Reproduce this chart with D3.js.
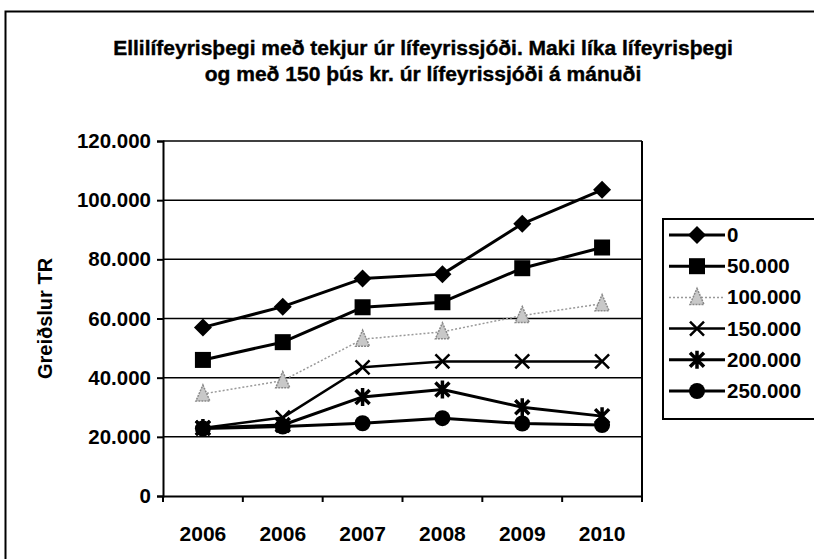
<!DOCTYPE html>
<html>
<head>
<meta charset="utf-8">
<script src="https://cdn.jsdelivr.net/npm/d3@7/dist/d3.min.js"></script>
<style>
  html, body { margin: 0; padding: 0; background: #fff; overflow: hidden; }
  svg { display: block; font-family: "Liberation Sans", Arial, sans-serif; font-weight: bold; }
</style>
</head>
<body>
<div id="chart"></div>
<script>
// gögn lesin af myndinni
const years = ['2006', '2006', '2007', '2008', '2009', '2010'];
const seriesNames = ['0', '50.000', '100.000', '150.000', '200.000', '250.000'];
const s0 = [57000, 64000, 73500, 75000, 92000, 103500];
const s50 = [46000, 52000, 63800, 65500, 77000, 84000];
const s100 = [34500, 39000, 53000, 55500, 61000, 65000];
const s150 = [23000, 26500, 43500, 45500, 45500, 45500];
const s200 = [23000, 24000, 33500, 36000, 30000, 27000];
const s250 = [22800, 23500, 24600, 26300, 24500, 24000];
const yTicks = [0, 20000, 40000, 60000, 80000, 100000, 120000];
const titleLines = ['Ellilífeyrisþegi með tekjur úr lífeyrissjóði. Maki líka lífeyrisþegi',
                    'og með 150 þús kr. úr lífeyrissjóði á mánuði'];
const yTitle = 'Greiðslur TR';

const W = 814, H = 559;
const plot = { left: 163, right: 642, top: 141, bottom: 496 };

const svg = d3.select('#chart').append('svg').attr('width', W).attr('height', H);

// ytri rammi
svg.append('rect').attr('x', 5.5).attr('y', 11.5).attr('width', 840).attr('height', 600)
  .attr('fill', 'none').attr('stroke', '#000').attr('stroke-width', 2);

// titill
svg.append('g').selectAll('text').data(titleLines).enter().append('text')
  .attr('x', 423).attr('y', (d, i) => 55 + i * 26)
  .attr('text-anchor', 'middle').attr('font-size', '21px').attr('fill', '#000')
  .attr('stroke', '#000').attr('stroke-width', 0.4)
  .text(d => d);

const x = d3.scaleBand().domain(d3.range(years.length)).range([plot.left, plot.right]);
const y = d3.scaleLinear().domain([0, 120000]).range([plot.bottom, plot.top]);
const fmt = v => d3.format(',')(v).replace(/,/g, '.');

// gridlínur
svg.append('g').selectAll('line').data(yTicks.filter(t => t > 0)).enter().append('line')
  .attr('x1', plot.left).attr('x2', plot.right)
  .attr('y1', d => y(d)).attr('y2', d => y(d))
  .attr('stroke', '#000').attr('stroke-width', 1.5);

// hægri rammi
svg.append('line').attr('x1', plot.right).attr('x2', plot.right)
  .attr('y1', plot.top).attr('y2', plot.bottom).attr('stroke', '#000').attr('stroke-width', 2);

// y-ás
const yAxis = svg.append('g').attr('transform', `translate(${plot.left},0)`)
  .call(d3.axisLeft(y).tickValues(yTicks).tickFormat(fmt).tickSize(6).tickPadding(6));
yAxis.select('.domain').attr('stroke-width', 2);
yAxis.selectAll('line').attr('stroke-width', 2);
yAxis.selectAll('text').attr('font-size', '20.5px').attr('font-family', '"Liberation Sans", Arial, sans-serif').attr('font-weight', 'bold');

// x-ás
const xAxis = svg.append('g').attr('transform', `translate(0,${plot.bottom})`)
  .call(d3.axisBottom(x).tickFormat(i => years[i]).tickSize(0).tickPadding(40));
xAxis.select('.domain').attr('stroke-width', 2);
xAxis.selectAll('text').attr('font-size', '21px').attr('font-family', '"Liberation Sans", Arial, sans-serif').attr('font-weight', 'bold').attr('dy', '0.25em');
svg.append('g').selectAll('line').data(d3.range(years.length + 1)).enter().append('line')
  .attr('x1', i => plot.left + i * x.step()).attr('x2', i => plot.left + i * x.step())
  .attr('y1', plot.bottom).attr('y2', plot.bottom + 6)
  .attr('stroke', '#000').attr('stroke-width', 2);

// y-ás titill
svg.append('text').attr('transform', `translate(52,${(plot.top + plot.bottom) / 2}) rotate(-90)`)
  .attr('text-anchor', 'middle').attr('font-size', '20px').text(yTitle);

const series = [
  { name: seriesNames[0], values: s0, color: '#000', width: 3, dash: null, marker: 'diamond' },
  { name: seriesNames[1], values: s50, color: '#000', width: 3, dash: null, marker: 'square' },
  { name: seriesNames[2], values: s100, color: '#999', width: 1.5, dash: '2,2', marker: 'triangle' },
  { name: seriesNames[3], values: s150, color: '#000', width: 2.5, dash: null, marker: 'x' },
  { name: seriesNames[4], values: s200, color: '#000', width: 3, dash: null, marker: 'star' },
  { name: seriesNames[5], values: s250, color: '#000', width: 3, dash: null, marker: 'circle' }
];

function drawMarker(g, type, color) {
  if (type === 'diamond') {
    g.append('path').attr('d', 'M0,-9 L9,0 L0,9 L-9,0 Z').attr('fill', color);
  } else if (type === 'square') {
    g.append('rect').attr('x', -8).attr('y', -8).attr('width', 16).attr('height', 16).attr('fill', color);
  } else if (type === 'triangle') {
    g.append('path').attr('d', 'M0,-9 L7,7 L-7,7 Z').attr('fill', '#c8c8c8').attr('stroke', '#888').attr('stroke-width', 1.5).attr('stroke-dasharray', '2,1');
  } else if (type === 'x') {
    g.append('path').attr('d', 'M-7,-7 L7,7 M-7,7 L7,-7').attr('stroke', color).attr('stroke-width', 2.5);
  } else if (type === 'star') {
    g.append('path').attr('d', 'M-7,-7 L7,7 M-7,7 L7,-7 M0,-9 L0,9').attr('stroke', color).attr('stroke-width', 3.5);
  } else if (type === 'circle') {
    g.append('circle').attr('r', 8).attr('fill', color);
  }
}

const line = d3.line().x((d, i) => x(i) + x.bandwidth() / 2).y(d => y(d));
const sg = svg.append('g').selectAll('g').data(series).enter().append('g');
sg.append('path').attr('d', d => line(d.values)).attr('fill', 'none')
  .attr('stroke', d => d.color).attr('stroke-width', d => d.width)
  .attr('stroke-dasharray', d => d.dash).attr('stroke-linejoin', 'round');
sg.each(function (s) {
  d3.select(this).selectAll('g.pt').data(s.values).enter().append('g').attr('class', 'pt')
    .attr('transform', (d, i) => `translate(${x(i) + x.bandwidth() / 2},${y(d)})`)
    .each(function () { drawMarker(d3.select(this), s.marker, s.color); });
});

// skýringar
const lg = svg.append('g');
lg.append('rect').attr('x', 663).attr('y', 219).attr('width', 170).attr('height', 200)
  .attr('fill', '#fff').attr('stroke', '#000').attr('stroke-width', 2);
const li = lg.selectAll('g.item').data(series).enter().append('g').attr('class', 'item')
  .attr('transform', (d, i) => `translate(0,${235 + i * 31.2})`);
li.append('line').attr('x1', 669).attr('x2', 725).attr('y1', 0).attr('y2', 0)
  .attr('stroke', d => d.color).attr('stroke-width', d => d.width).attr('stroke-dasharray', d => d.dash);
li.append('g').attr('transform', 'translate(697,0)').each(function (d) { drawMarker(d3.select(this), d.marker, d.color); });
li.append('text').attr('x', 727).attr('y', 7).attr('font-size', '20.5px').text(d => d.name);
</script>
</body>
</html>
